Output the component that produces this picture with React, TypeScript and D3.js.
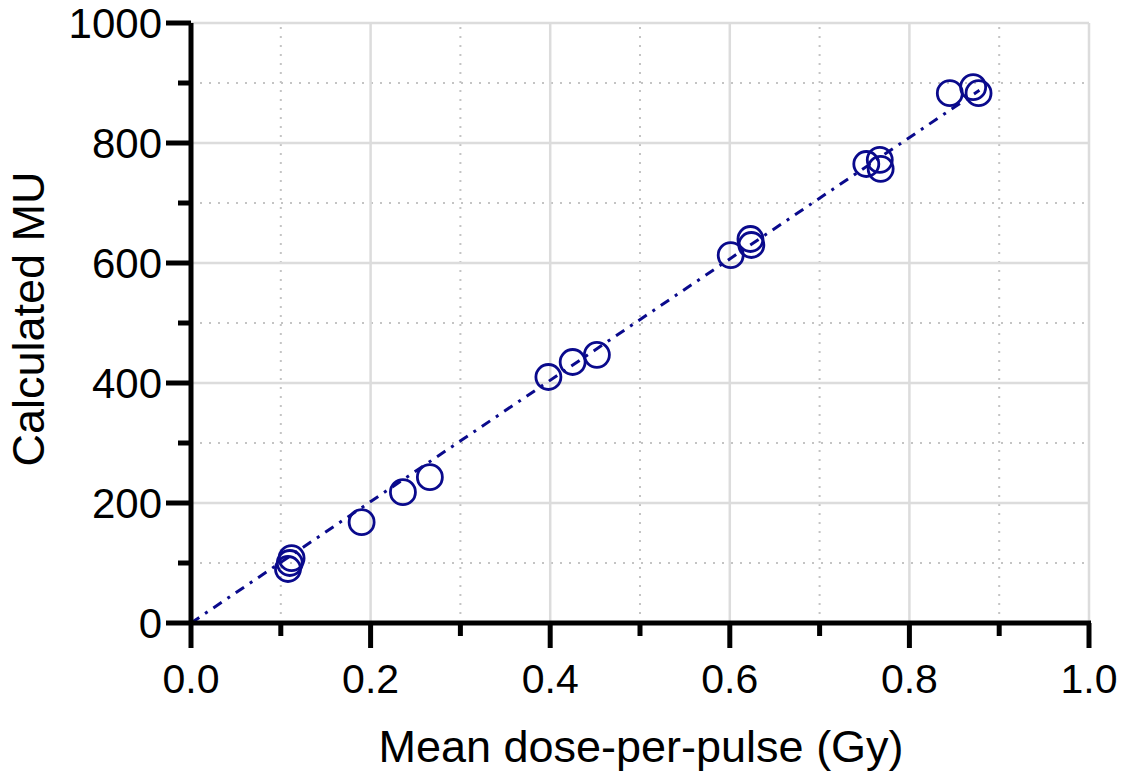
import React from 'react';
import * as d3 from 'd3';

// measured points
const dosePerPulse = [0.108, 0.110, 0.112, 0.190, 0.236, 0.266, 0.398, 0.425, 0.452, 0.601, 0.623, 0.624, 0.752, 0.767, 0.768, 0.845, 0.871, 0.877];
const calculatedMU = [90, 100, 108, 168, 218, 243, 410, 435, 447, 613, 640, 630, 765, 772, 757, 883, 893, 883];

// fit line end points
const fitX = [0, 0.878];
const fitY = [0, 888];

const xMajor = [0, 0.2, 0.4, 0.6, 0.8, 1.0];
const xMinor = [0.1, 0.3, 0.5, 0.7, 0.9];
const yMajor = [0, 200, 400, 600, 800, 1000];
const yMinor = [100, 300, 500, 700, 900];

const navy = '#0a0a8c';
const font = 'Arial, "Liberation Sans", sans-serif';

const App: React.FC = () => {
  const x = d3.scaleLinear().domain([0, 1]).range([191, 1089]);
  const y = d3.scaleLinear().domain([0, 1000]).range([623, 23]);

  const line = d3.line<number>()
    .x((_, i) => x(fitX[i]))
    .y(d => y(d));

  return (
    <svg width={1123} height={777} style={{ position: 'absolute', left: 0, top: 0 }}>
      <rect width={1123} height={777} fill="white" />

      {/* grid */}
      {xMinor.map(v => (
        <line key={'xm' + v} x1={x(v)} x2={x(v)} y1={y(0)} y2={y(1000)}
          stroke="#c4c4c4" strokeWidth={2} strokeDasharray="2,7" />
      ))}
      {yMinor.map(v => (
        <line key={'ym' + v} x1={x(0)} x2={x(1)} y1={y(v)} y2={y(v)}
          stroke="#c4c4c4" strokeWidth={2} strokeDasharray="2,7" />
      ))}
      {xMajor.slice(1).map(v => (
        <line key={'xg' + v} x1={x(v)} x2={x(v)} y1={y(0)} y2={y(1000)}
          stroke="#dcdcdc" strokeWidth={2.5} />
      ))}
      {yMajor.slice(1).map(v => (
        <line key={'yg' + v} x1={x(0)} x2={x(1)} y1={y(v)} y2={y(v)}
          stroke="#dcdcdc" strokeWidth={2.5} />
      ))}

      {/* fit line */}
      <path d={line(fitY) || ''} fill="none" stroke={navy} strokeWidth={3}
        strokeDasharray="10,7,3,7" />

      {/* points */}
      {dosePerPulse.map((d, i) => (
        <circle key={i} cx={x(d)} cy={y(calculatedMU[i])} r={12.5}
          fill="none" stroke={navy} strokeWidth={2.8} />
      ))}

      {/* axes */}
      <line x1={x(0)} x2={x(0)} y1={y(1000)} y2={y(0)} stroke="black" strokeWidth={5} />
      <line x1={x(0)} x2={x(1) + 2} y1={y(0)} y2={y(0)} stroke="black" strokeWidth={5} />
      {yMajor.map(v => (
        <g key={'yt' + v}>
          <line x1={x(0) - 25} x2={x(0)} y1={y(v)} y2={y(v)} stroke="black" strokeWidth={5} />
          <text x={x(0) - 29} y={y(v)} dy="0.36em" textAnchor="end"
            fontFamily={font} fontSize={42}>{v}</text>
        </g>
      ))}
      {yMinor.map(v => (
        <line key={'ymt' + v} x1={x(0) - 13} x2={x(0)} y1={y(v)} y2={y(v)} stroke="black" strokeWidth={5} />
      ))}
      {xMajor.map(v => (
        <g key={'xt' + v}>
          <line x1={x(v)} x2={x(v)} y1={y(0)} y2={y(0) + 25} stroke="black" strokeWidth={5} />
          <text x={x(v)} y={693} textAnchor="middle"
            fontFamily={font} fontSize={41}>{v.toFixed(1)}</text>
        </g>
      ))}
      {xMinor.map(v => (
        <line key={'xmt' + v} x1={x(v)} x2={x(v)} y1={y(0)} y2={y(0) + 13} stroke="black" strokeWidth={5} />
      ))}

      {/* titles */}
      <text x={641} y={762} textAnchor="middle" fontFamily={font} fontSize={45}>
        Mean dose-per-pulse (Gy)
      </text>
      <text transform="translate(44,319) rotate(-90)" textAnchor="middle"
        fontFamily={font} fontSize={45}>
        Calculated MU
      </text>
    </svg>
  );
};

export default App;
